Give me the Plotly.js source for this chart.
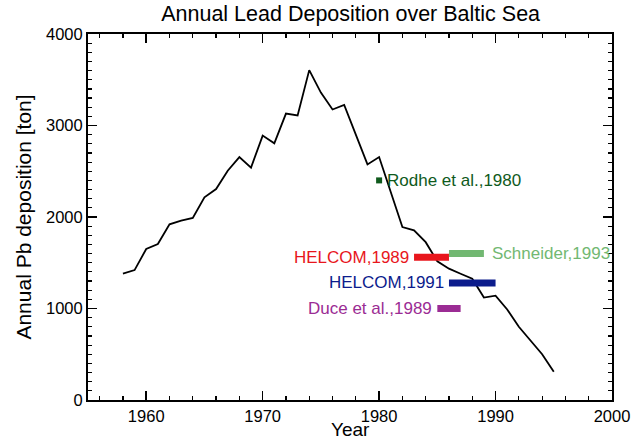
<!DOCTYPE html>
<html>
<head>
<meta charset="utf-8">
<script src="https://cdn.plot.ly/plotly-3.0.1.min.js"></script>
<style>html,body{margin:0;padding:0;background:#fff;}#chart{width:636px;height:441px;}</style>
</head>
<body>
<div id="chart"></div>
<script>
// Modelled annual lead deposition
const years = [1958,1959,1960,1961,1962,1963,1964,1965,1966,1967,1968,1969,1970,1971,1972,1973,1974,1975,1976,1977,1978,1979,1980,1981,1982,1983,1984,1985,1986,1987,1988,1989,1990,1991,1992,1993,1994,1995];
const deposition = [1380,1420,1650,1705,1920,1960,1990,2215,2305,2505,2655,2540,2890,2805,3130,3110,3605,3360,3175,3225,2900,2575,2655,2270,1890,1855,1725,1515,1435,1380,1325,1120,1140,990,800,650,500,310];

// Literature estimates
const refNames   = ["Rodhe et al.,1980","HELCOM,1989","Schneider,1993","HELCOM,1991","Duce et al.,1989"];
const refStart   = [1980,1983,1986,1986,1985];
const refEnd     = [1980,1986,1989,1990,1987];
const refValue   = [2400,1560,1600,1280,1000];
const refColors  = ["#0f5a1c","#e8161c","#72b872","#0c1c8c","#9b2c94"];
const refLabelSide = ["right","left","right","left","left"];

const FONT = 'Arial, Liberation Sans, sans-serif';
const traces = [{
  x: years, y: deposition, type: 'scatter', mode: 'lines',
  line: {color: '#000', width: 1.8}, hoverinfo: 'skip'
}];
const annotations = [];
refNames.forEach((n, i) => {
  if (refStart[i] === refEnd[i]) {
    traces.push({x: [refStart[i]], y: [refValue[i]], type: 'scatter', mode: 'markers',
      marker: {symbol: 'square', size: 6, color: refColors[i]}});
  } else {
    traces.push({x: [refStart[i], refEnd[i]], y: [refValue[i], refValue[i]], type: 'scatter', mode: 'lines',
      line: {color: refColors[i], width: 7}});
  }
  const right = refLabelSide[i] === 'right';
  annotations.push({
    x: right ? refEnd[i] : refStart[i], y: refValue[i], xref: 'x', yref: 'y',
    text: n, showarrow: false, xanchor: right ? 'left' : 'right', yanchor: 'middle',
    xshift: right ? 6 : -3,
    font: {family: FONT, size: 17, color: refColors[i]}
  });
});
// x-axis title drawn as a paper-anchored annotation so it sits just below the tick labels
annotations.push({
  x: 0.5, y: 0, xref: 'paper', yref: 'paper', text: 'Year', showarrow: false,
  xanchor: 'center', yanchor: 'bottom', yshift: -41, borderpad: 0,
  font: {family: FONT, size: 19, color: '#000'}
});

const axisCommon = {
  showgrid: false, zeroline: false, showline: true, linecolor: '#000', linewidth: 2,
  mirror: 'allticks', ticks: 'inside', ticklen: 9, tickwidth: 1.5, tickcolor: '#000',
  tickfont: {family: FONT, size: 16.5, color: '#000'}
};
const layout = {
  width: 636, height: 441,
  margin: {l: 88, r: 24, t: 34, b: 41},
  paper_bgcolor: '#fff', plot_bgcolor: '#fff',
  showlegend: false,
  title: {text: 'Annual Lead Deposition over Baltic Sea', x: 0.5513, xanchor: 'center', y: 0.97, yanchor: 'middle',
    font: {family: FONT, size: 21.5, color: '#000'}},
  xaxis: Object.assign({}, axisCommon, {
    range: [1955, 2000], tickvals: [1960,1970,1980,1990,2000],
    minor: {dtick: 2, tick0: 1956, ticks: 'inside', ticklen: 4, tickwidth: 1.2, tickcolor: '#000'}
  }),
  yaxis: Object.assign({}, axisCommon, {
    range: [0, 4000], tickvals: [0,1000,2000,3000,4000],
    minor: {dtick: 100, ticks: 'inside', ticklen: 4, tickwidth: 1.2, tickcolor: '#000'},
    title: {text: 'Annual Pb deposition [ton]', standoff: 9, font: {family: FONT, size: 21, color: '#000'}}
  }),
  annotations: annotations
};
Plotly.newPlot('chart', traces, layout, {displayModeBar: false, staticPlot: true});
</script>
</body>
</html>
